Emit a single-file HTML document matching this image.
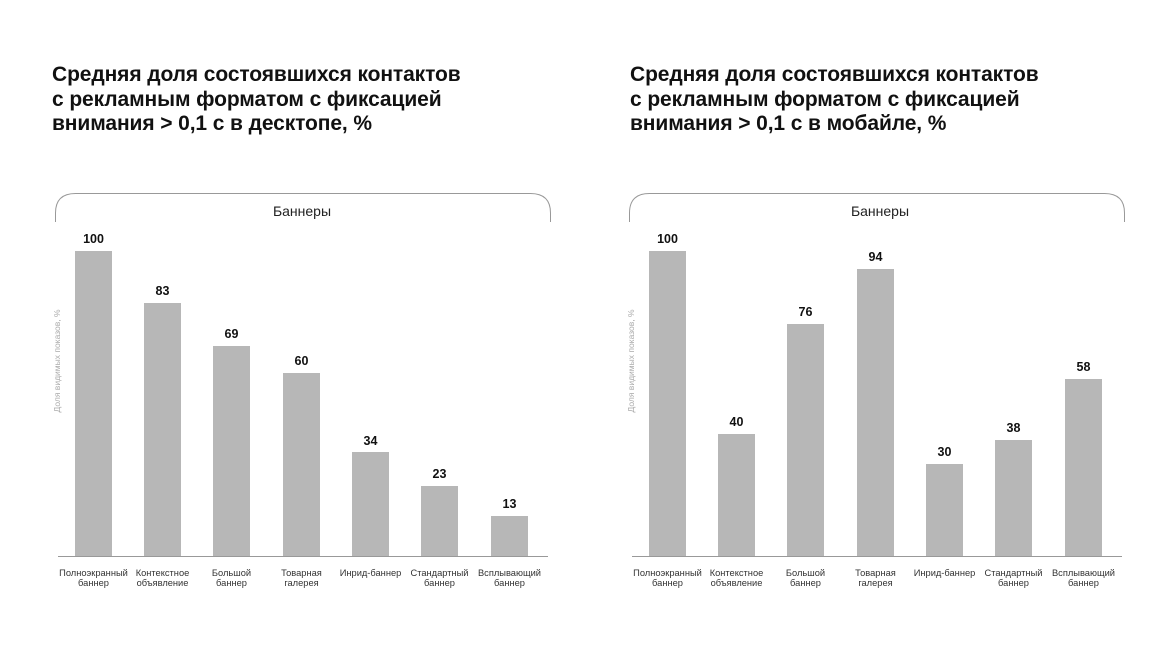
<!DOCTYPE html>
<html><head><meta charset="utf-8"><style>
html,body{margin:0;padding:0;background:#fff;}
svg{display:block;font-family:"Liberation Sans",Arial,sans-serif;}
.t{font-size:21px;font-weight:bold;fill:#111;letter-spacing:-0.1px}
.v{font-size:12.5px;font-weight:bold;fill:#111;text-anchor:middle}
.c{font-size:9.3px;fill:#333;text-anchor:middle}
.y{font-size:8.5px;fill:#aaa;text-anchor:middle}
.h{font-size:14px;fill:#222;text-anchor:middle}
</style></head><body>
<svg width="1176" height="662" viewBox="0 0 1176 662">
<g id="L">
<text class="t" x="52" y="81">Средняя доля состоявшихся контактов</text>
<text class="t" x="52" y="106">с рекламным форматом с фиксацией</text>
<text class="t" x="52" y="130">внимания &gt; 0,1 с в десктопе, %</text>
<path d="M55.5 222 V213 Q55.5 193.5 75.5 193.5 H530.5 Q550.5 193.5 550.5 213 V222" fill="none" stroke="#999" stroke-width="1"/>
<text class="h" x="302" y="216">Баннеры</text>
<text class="y" transform="translate(60,361) rotate(-90)">Доля видимых показов, %</text>
<line x1="58" y1="556.5" x2="548" y2="556.5" stroke="#999" stroke-width="1"/>
<g fill="#b7b7b7">
<rect x="75" y="251" width="37" height="305"/>
<rect x="144" y="303" width="37" height="253"/>
<rect x="213" y="346" width="37" height="210"/>
<rect x="283" y="373" width="37" height="183"/>
<rect x="352" y="452" width="37" height="104"/>
<rect x="421" y="486" width="37" height="70"/>
<rect x="491" y="516" width="37" height="40"/>
</g>
<text class="v" x="93.5" y="243">100</text>
<text class="v" x="162.5" y="295">83</text>
<text class="v" x="231.5" y="338">69</text>
<text class="v" x="301.5" y="365">60</text>
<text class="v" x="370.5" y="445">34</text>
<text class="v" x="439.5" y="478">23</text>
<text class="v" x="509.5" y="508">13</text>
<text class="c" x="93.5" y="576">Полноэкранный</text><text class="c" x="93.5" y="586">баннер</text>
<text class="c" x="162.5" y="576">Контекстное</text><text class="c" x="162.5" y="586">объявление</text>
<text class="c" x="231.5" y="576">Большой</text><text class="c" x="231.5" y="586">баннер</text>
<text class="c" x="301.5" y="576">Товарная</text><text class="c" x="301.5" y="586">галерея</text>
<text class="c" x="370.5" y="576">Инрид-баннер</text>
<text class="c" x="439.5" y="576">Стандартный</text><text class="c" x="439.5" y="586">баннер</text>
<text class="c" x="509.5" y="576">Всплывающий</text><text class="c" x="509.5" y="586">баннер</text>
</g>
<g transform="translate(574,0)">
<text class="t" x="56" y="81">Средняя доля состоявшихся контактов</text>
<text class="t" x="56" y="106">с рекламным форматом с фиксацией</text>
<text class="t" x="56" y="130">внимания &gt; 0,1 с в мобайле, %</text>
<path d="M55.5 222 V213 Q55.5 193.5 75.5 193.5 H530.5 Q550.5 193.5 550.5 213 V222" fill="none" stroke="#999" stroke-width="1"/>
<text class="h" x="306" y="216">Баннеры</text>
<text class="y" transform="translate(60,361) rotate(-90)">Доля видимых показов, %</text>
<line x1="58" y1="556.5" x2="548" y2="556.5" stroke="#999" stroke-width="1"/>
<g fill="#b7b7b7">
<rect x="75" y="251" width="37" height="305"/>
<rect x="144" y="434" width="37" height="122"/>
<rect x="213" y="324" width="37" height="232"/>
<rect x="283" y="269" width="37" height="287"/>
<rect x="352" y="464" width="37" height="92"/>
<rect x="421" y="440" width="37" height="116"/>
<rect x="491" y="379" width="37" height="177"/>
</g>
<text class="v" x="93.5" y="243">100</text>
<text class="v" x="162.5" y="426">40</text>
<text class="v" x="231.5" y="316">76</text>
<text class="v" x="301.5" y="261">94</text>
<text class="v" x="370.5" y="456">30</text>
<text class="v" x="439.5" y="432">38</text>
<text class="v" x="509.5" y="371">58</text>
<text class="c" x="93.5" y="576">Полноэкранный</text><text class="c" x="93.5" y="586">баннер</text>
<text class="c" x="162.5" y="576">Контекстное</text><text class="c" x="162.5" y="586">объявление</text>
<text class="c" x="231.5" y="576">Большой</text><text class="c" x="231.5" y="586">баннер</text>
<text class="c" x="301.5" y="576">Товарная</text><text class="c" x="301.5" y="586">галерея</text>
<text class="c" x="370.5" y="576">Инрид-баннер</text>
<text class="c" x="439.5" y="576">Стандартный</text><text class="c" x="439.5" y="586">баннер</text>
<text class="c" x="509.5" y="576">Всплывающий</text><text class="c" x="509.5" y="586">баннер</text>
</g>
</svg>
</body></html>
